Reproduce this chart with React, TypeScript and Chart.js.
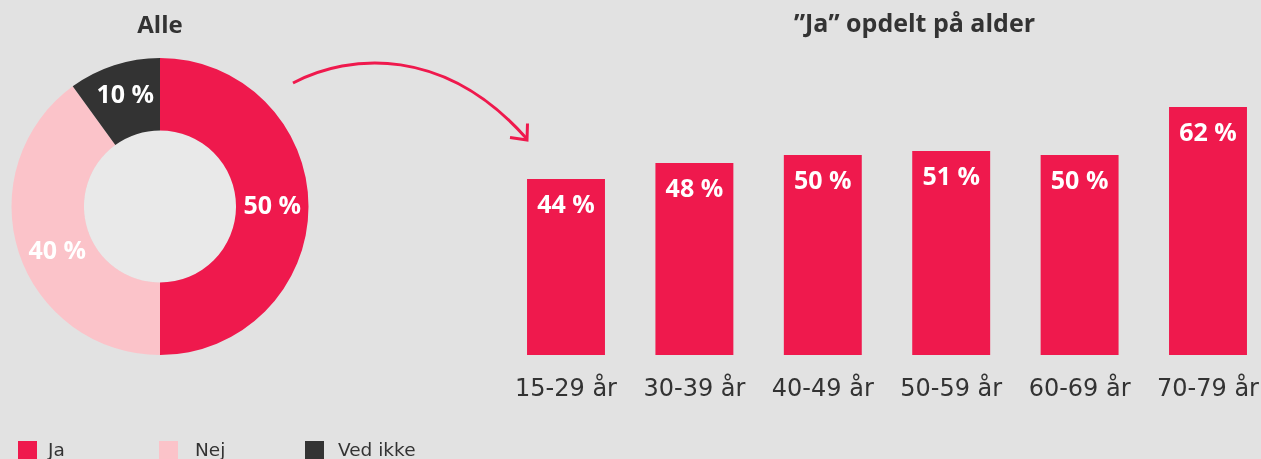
import React, { useEffect, useRef } from "react";
import { Chart, registerables } from "chart.js";

Chart.register(...registerables);

// ---- data ----
const pieLabels = ["Ja", "Nej", "Ved ikke"];
const pieValues = [50, 40, 10];
const pieColors = ["#EF194D", "#FBC3C9", "#333333"];

const ageLabels = ["15-29 år", "30-39 år", "40-49 år", "50-59 år", "60-69 år", "70-79 år"];
const jaValues = [44, 48, 50, 51, 50, 62];

const pieTitle = "Alle";
const barTitle = "\u201DJa\u201D opdelt på alder";

const BG = "#E2E2E2";
const HOLE = "#E9E9E9";
const TEXT = "#333333";
const LABEL_FONT = "'Open Sans', 'DejaVu Sans', sans-serif";

const holePlugin = {
  id: "holeFill",
  beforeDatasetsDraw(chart: any) {
    const arc = chart.getDatasetMeta(0).data[0] as any;
    if (!arc) return;
    const ctx = chart.ctx;
    ctx.save();
    ctx.beginPath();
    ctx.arc(arc.x, arc.y, arc.innerRadius, 0, Math.PI * 2);
    ctx.fillStyle = HOLE;
    ctx.fill();
    ctx.restore();
  },
};

const pieLabelPlugin = {
  id: "pieLabels",
  afterDatasetsDraw(chart: any) {
    const ctx = chart.ctx;
    const meta = chart.getDatasetMeta(0);
    const nudges = [[0, 0], [4, 11], [0, -4]];
    ctx.save();
    ctx.font = `bold 25px ${LABEL_FONT}`;
    ctx.fillStyle = "#FFFFFF";
    ctx.textAlign = "center";
    ctx.textBaseline = "middle";
    meta.data.forEach((arc: any, i: number) => {
      const p = arc.getCenterPoint();
      const n = nudges[i] || [0, 0];
      ctx.fillText(`${pieValues[i]} %`, p.x + n[0], p.y + n[1]);
    });
    ctx.restore();
  },
};

const barLabelPlugin = {
  id: "barLabels",
  afterDatasetsDraw(chart: any) {
    const ctx = chart.ctx;
    const meta = chart.getDatasetMeta(0);
    ctx.save();
    ctx.font = `bold 25px ${LABEL_FONT}`;
    ctx.fillStyle = "#FFFFFF";
    ctx.textAlign = "center";
    ctx.textBaseline = "middle";
    meta.data.forEach((bar: any, i: number) => {
      ctx.fillText(`${jaValues[i]} %`, bar.x, bar.y + 27);
    });
    ctx.restore();
  },
};

const barTitlePlugin = {
  id: "barTitle",
  afterDraw(chart: any) {
    const ctx = chart.ctx;
    ctx.save();
    ctx.font = `bold 25px ${LABEL_FONT}`;
    ctx.fillStyle = TEXT;
    ctx.textAlign = "center";
    ctx.textBaseline = "middle";
    ctx.fillText(barTitle, chart.width / 2, 25);
    ctx.restore();
  },
};

export default function App() {
  const pieRef = useRef<HTMLCanvasElement>(null);
  const barRef = useRef<HTMLCanvasElement>(null);

  useEffect(() => {
    const pie = new Chart(pieRef.current!, {
      type: "doughnut",
      data: {
        labels: pieLabels,
        datasets: [
          {
            data: pieValues,
            backgroundColor: pieColors,
            borderWidth: 0,
            hoverBorderWidth: 0,
            hoverOffset: 0,
            offset: 0,
          },
        ],
      },
      options: {
        responsive: false,
        animation: false,
        cutout: "51.2%",
        spacing: 0,
        layout: { padding: { left: 11.5, right: 11.5, top: 0, bottom: 15 } },
        plugins: {
          legend: { display: false },
          tooltip: { enabled: false },
          title: {
            display: true,
            text: pieTitle,
            color: TEXT,
            font: { family: LABEL_FONT, size: 24, weight: "bold", lineHeight: 1.2 },
            padding: { top: 11.5, bottom: 17.7 },
          },
        },
      },
      plugins: [holePlugin, pieLabelPlugin],
    } as any);

    const bar = new Chart(barRef.current!, {
      type: "bar",
      data: {
        labels: ageLabels,
        datasets: [
          {
            label: "Ja",
            data: jaValues,
            backgroundColor: pieColors[0],
            borderWidth: 0,
            barPercentage: 0.607,
            categoryPercentage: 1,
          },
        ],
      },
      options: {
        responsive: false,
        animation: false,
        layout: { padding: { left: 11.8, right: 66.8, top: 75, bottom: 0.2 } },
        scales: {
          x: {
            grid: { display: false, drawTicks: false },
            border: { display: false },
            ticks: {
              color: TEXT,
              font: { family: "'DejaVu Sans', sans-serif", size: 24, lineHeight: 1.2 },
              padding: 20,
              maxRotation: 0,
              autoSkip: false,
            },
          },
          y: { display: false, min: 0, max: 70 },
        },
        plugins: {
          legend: { display: false },
          tooltip: { enabled: false },
          title: { display: false },
        },
      },
      plugins: [barLabelPlugin, barTitlePlugin],
    } as any);

    return () => {
      pie.destroy();
      bar.destroy();
    };
  }, []);

  const legendX = [18, 159, 305];
  const legendTextX = [48, 195, 338];

  return (
    <div
      style={{
        position: "fixed",
        left: 0,
        top: 0,
        width: 1261,
        height: 459,
        overflow: "hidden",
        background: BG,
      }}
    >
      <canvas
        ref={pieRef}
        width={320}
        height={370}
        style={{ position: "absolute", left: 0, top: 0, width: 320, height: 370 }}
      />
      <canvas
        ref={barRef}
        width={849}
        height={424}
        style={{ position: "absolute", left: 490, top: 0, width: 849, height: 424 }}
      />
      <svg
        width={1261}
        height={459}
        style={{ position: "absolute", left: 0, top: 0, pointerEvents: "none" }}
      >
        <path d="M293 83 C350 53, 445 46, 527 139" stroke={pieColors[0]} strokeWidth={3} fill="none" />
        <polyline points="510,137.5 527,140 527.5,123.5" stroke={pieColors[0]} strokeWidth={3} fill="none" />
      </svg>
      {pieLabels.map((l, i) => (
        <React.Fragment key={l}>
          <div
            style={{
              position: "absolute",
              left: legendX[i],
              top: 441,
              width: 19,
              height: 19,
              background: pieColors[i],
            }}
          />
          <div
            style={{
              position: "absolute",
              left: legendTextX[i],
              top: 440,
              fontFamily: "'DejaVu Sans', sans-serif",
              fontSize: 18.5,
              lineHeight: "19px",
              color: TEXT,
              whiteSpace: "nowrap",
            }}
          >
            {l}
          </div>
        </React.Fragment>
      ))}
    </div>
  );
}
